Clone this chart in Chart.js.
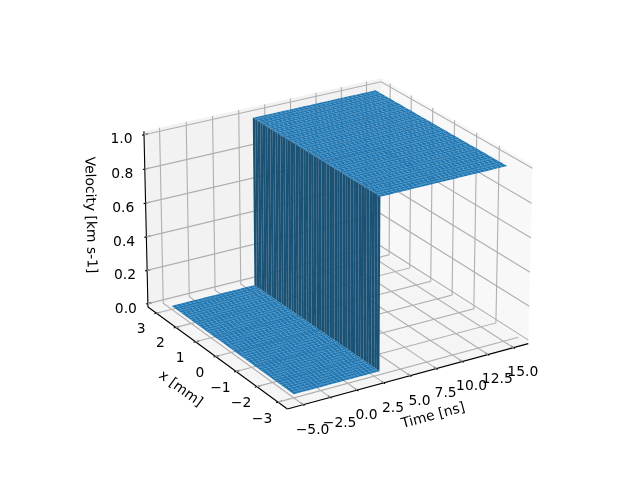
<!DOCTYPE html>
<html>
<head>
<meta charset="utf-8">
<title>Velocity surface</title>
<script src="https://cdn.jsdelivr.net/npm/chart.js@4"></script>
<style>
  html, body { margin: 0; padding: 0; background: #fff; }
  canvas { display: block; }
</style>
</head>
<body>
<canvas id="chart" width="640" height="480"></canvas>
<script>
// surface samples, rows are x [mm], columns are Time [ns]
const timeSamples = [-5, -4.59, -4.18, -3.78, -3.37, -2.96, -2.55, -2.14, -1.73, -1.33, -0.92, -0.51, -0.1,
  0.31, 0.71, 1.12, 1.53, 1.94, 2.35, 2.76, 3, 3, 3.16, 3.57, 3.98, 4.39, 4.8, 5.2, 5.61, 6.02, 6.43, 6.84, 7.24,
  7.65, 8.06, 8.47, 8.88, 9.29, 9.69, 10.1, 10.51, 10.92, 11.33, 11.73, 12.14, 12.55, 12.96, 13.37, 13.78,
  14.18, 14.59, 15];
const xSamples = [-3, -2.88, -2.76, -2.63, -2.51, -2.39, -2.27, -2.14, -2.02, -1.9, -1.78, -1.65, -1.53, -1.41,
  -1.29, -1.16, -1.04, -0.92, -0.8, -0.67, -0.55, -0.43, -0.31, -0.18, -0.06, 0.06, 0.18, 0.31, 0.43, 0.55,
  0.67, 0.8, 0.92, 1.04, 1.16, 1.29, 1.41, 1.53, 1.65, 1.78, 1.9, 2.02, 2.14, 2.27, 2.39, 2.51, 2.63, 2.76,
  2.88, 3];
const velocitySamples = [0, 0, 0, 0, 0, 0, 0, 0, 0, 0, 0, 0, 0,
  0, 0, 0, 0, 0, 0, 0, 0, 1, 1, 1, 1, 1, 1, 1, 1, 1, 1, 1, 1,
  1, 1, 1, 1, 1, 1, 1, 1, 1, 1, 1, 1, 1, 1, 1, 1,
  1, 1, 1];

const timeTicks = [-5, -2.5, 0, 2.5, 5, 7.5, 10, 12.5, 15];
const timeTickLabels = ['\u22125.0', '\u22122.5', '0.0', '2.5', '5.0', '7.5', '10.0', '12.5', '15.0'];
const xTicks = [-3, -2, -1, 0, 1, 2, 3];
const xTickLabels = ['\u22123', '\u22122', '\u22121', '0', '1', '2', '3'];
const velocityTicks = [0, 0.2, 0.4, 0.6, 0.8, 1];
const velocityTickLabels = ['0.0', '0.2', '0.4', '0.6', '0.8', '1.0'];

const timeLimits = [-6, 16];
const xLimits = [-3.3, 3.3];
const velocityLimits = [0, 1];

const ELEV = 23.5, AZIM = -121.7, DIST = 18;
const BOX = [1.35, 1.33, 0.93];

const dot = (a, b) => a[0]*b[0] + a[1]*b[1] + a[2]*b[2];
const cross = (a, b) => [a[1]*b[2]-a[2]*b[1], a[2]*b[0]-a[0]*b[2], a[0]*b[1]-a[1]*b[0]];
const unit = a => { const m = Math.sqrt(dot(a, a)); return a.map(v => v / m); };

const el = ELEV * Math.PI / 180, az = AZIM * Math.PI / 180;
const lookDir = [Math.cos(el)*Math.cos(az), Math.cos(el)*Math.sin(az), Math.sin(el)];
const centre = BOX.map(v => v / 2);
const eye = centre.map((v, i) => v + DIST * lookDir[i]);
const viewN = unit(lookDir);
const viewU = unit(cross([0, 0, 1], viewN));
const viewV = cross(viewN, viewU);

// same camera as mplot3d, gives plain 2d coordinates for the scatter scales
function project(t, x, v) {
  const p = [
    (t - timeLimits[0]) / (timeLimits[1] - timeLimits[0]) * BOX[0],
    (x - xLimits[0]) / (xLimits[1] - xLimits[0]) * BOX[1],
    (v - velocityLimits[0]) / (velocityLimits[1] - velocityLimits[0]) * BOX[2]
  ].map((c, i) => c - eye[i]);
  const w = -dot(viewN, p);
  return { x: dot(viewU, p) / w, y: dot(viewV, p) / w };
}

const spans = [timeLimits, xLimits, velocityLimits].map(l => (l[1] - l[0]) / 12);
const tLo = timeLimits[0] - spans[0] / 4, tHi = timeLimits[1] + spans[0] / 4;
const xLo = xLimits[0] - spans[1] / 4, xHi = xLimits[1] + spans[1] / 4;
const vLo = velocityLimits[0] - spans[2] / 4, vHi = velocityLimits[1] + spans[2] / 4;

const PANE_LEFT = 'rgba(230,230,230,0.5)';
const PANE_RIGHT = 'rgba(242,242,242,0.5)';
const PANE_FLOOR = 'rgba(236,236,236,0.5)';
const GRID = '#b0b0b0';
const TOP_COLOR = '#1f77b4';
const WALL_COLOR = '#1a5276';

function polyData(corners) { return corners.map(c => project(c[0], c[1], c[2])); }

const polygon = (corners, color) => ({
  data: polyData(corners), polyColor: color, pointRadius: 0, showLine: false
});
const stroke = (corners, color) => ({
  data: polyData(corners), borderColor: color, borderWidth: 0.8 * 100 / 72,
  pointRadius: 0, showLine: true, tension: 0, fill: false
});

const datasets = [];
datasets.push(polygon([[tLo,xHi,vLo],[tHi,xHi,vLo],[tHi,xHi,vHi],[tLo,xHi,vHi]], PANE_LEFT));
datasets.push(polygon([[tHi,xLo,vLo],[tHi,xHi,vLo],[tHi,xHi,vHi],[tHi,xLo,vHi]], PANE_RIGHT));
datasets.push(polygon([[tLo,xLo,vLo],[tHi,xLo,vLo],[tHi,xHi,vLo],[tLo,xHi,vLo]], PANE_FLOOR));

timeTicks.forEach(t => datasets.push(stroke([[t,xLo,vLo],[t,xHi,vLo],[t,xHi,vHi]], GRID)));
xTicks.forEach(x => datasets.push(stroke([[tLo,x,vLo],[tHi,x,vLo],[tHi,x,vHi]], GRID)));
velocityTicks.forEach(v => datasets.push(stroke([[tLo,xHi,v],[tHi,xHi,v],[tHi,xLo,v]], GRID)));

// axis lines and ticks
datasets.push(stroke([[tLo,xLo,vLo],[tHi,xLo,vLo]], '#000'));
datasets.push(stroke([[tLo,xLo,vLo],[tLo,xHi,vLo]], '#000'));
datasets.push(stroke([[tLo,xHi,vLo],[tLo,xHi,vHi]], '#000'));
timeTicks.forEach(t => datasets.push(stroke([[t,xLo-0.1*spans[1],vLo],[t,xLo+0.2*spans[1],vLo]], '#000')));
xTicks.forEach(x => datasets.push(stroke([[tLo-0.1*spans[0],x,vLo],[tLo+0.2*spans[0],x,vLo]], '#000')));
velocityTicks.forEach(v => datasets.push(stroke([[tLo-0.1*spans[0],xHi,v],[tLo+0.2*spans[0],xHi,v]], '#000')));

// surface, far cells first so the near ones sit on top
const facetPoints = [], facetColors = [];
for (let i = timeSamples.length - 2; i >= 0; i--) {
  for (let j = xSamples.length - 2; j >= 0; j--) {
    const v0 = velocitySamples[i], v1 = velocitySamples[i + 1];
    facetPoints.push(
      project(timeSamples[i], xSamples[j], v0),
      project(timeSamples[i + 1], xSamples[j], v1),
      project(timeSamples[i + 1], xSamples[j + 1], v1),
      project(timeSamples[i], xSamples[j + 1], v0)
    );
    facetColors.push(v0 === v1 ? TOP_COLOR : WALL_COLOR);
  }
}
datasets.push({ data: facetPoints, facetColors, pointRadius: 0, showLine: false });

// text anchors
const texts = [];
timeTicks.forEach((t, i) => texts.push({ at: project(t, xLo - 0.77*spans[1], vLo - 1.33*spans[2]), text: timeTickLabels[i], angle: 0 }));
xTicks.forEach((x, i) => texts.push({ at: project(tLo - 0.8*spans[0], x, vLo - 0.9*spans[2]), text: xTickLabels[i], angle: 0 }));
velocityTicks.forEach((v, i) => texts.push({ at: project(tLo - 1.14*spans[0], xHi, v), text: velocityTickLabels[i], angle: 0 }));
texts.push({ at: project(5, xLo - 1.9*spans[1], vLo - 1.7*spans[2]), text: 'Time [ns]', from: [[tLo,xLo,vLo],[tHi,xLo,vLo]] });
texts.push({ at: project(tLo - 1.8*spans[0], 0, vLo - 1.65*spans[2]), text: 'x [mm]', from: [[tLo,xLo,vLo],[tLo,xHi,vLo]] });
texts.push({ at: project(tLo - 1.86*spans[0], xHi + 1.86*spans[1], 0.5), text: 'Velocity [km s-1]', from: [[tLo,xHi,vLo],[tLo,xHi,vHi]] });
datasets.push({ data: texts.map(t => t.at), textItems: texts, pointRadius: 0, showLine: false });

const meshPlugin = {
  id: 'mesh',
  beforeDatasetsDraw(chart) {
    // panes go under everything else
    const ctx = chart.ctx;
    chart.data.datasets.forEach((ds, i) => {
      if (!ds.polyColor) return;
      const pts = chart.getDatasetMeta(i).data;
      ctx.beginPath();
      pts.forEach((p, k) => k ? ctx.lineTo(p.x, p.y) : ctx.moveTo(p.x, p.y));
      ctx.closePath();
      ctx.fillStyle = ds.polyColor;
      ctx.fill();
    });
  },
  afterDatasetsDraw(chart) {
    const ctx = chart.ctx;
    const sx = chart.scales.x, sy = chart.scales.y;
    chart.data.datasets.forEach((ds, i) => {
      const pts = chart.getDatasetMeta(i).data;
      if (ds.facetColors) {
        for (let f = 0; f < ds.facetColors.length; f++) {
          const a = pts[f*4], b = pts[f*4+1], c = pts[f*4+2], d = pts[f*4+3];
          ctx.beginPath();
          ctx.moveTo(a.x, a.y); ctx.lineTo(b.x, b.y); ctx.lineTo(c.x, c.y); ctx.lineTo(d.x, d.y);
          ctx.closePath();
          ctx.fillStyle = ds.facetColors[f];
          ctx.fill();
        }
      }
      if (ds.textItems) {
        ctx.save();
        ctx.font = '13.89px "DejaVu Sans"';
        ctx.fillStyle = '#000';
        ctx.textAlign = 'center';
        ctx.textBaseline = 'middle';
        ds.textItems.forEach((t, k) => {
          let angle = t.angle || 0;
          if (t.from) {
            const p0 = project(...t.from[0]), p1 = project(...t.from[1]);
            const dx = sx.getPixelForValue(p1.x) - sx.getPixelForValue(p0.x);
            const dy = sy.getPixelForValue(p1.y) - sy.getPixelForValue(p0.y);
            angle = Math.atan2(dy, dx);
            if (angle > Math.PI / 2) angle -= Math.PI;
            if (angle < -Math.PI / 2) angle += Math.PI;
          }
          ctx.save();
          ctx.translate(pts[k].x, pts[k].y);
          ctx.rotate(angle);
          ctx.fillText(t.text, 0, 0);
          ctx.restore();
        });
        ctx.restore();
      }
    });
  }
};

new Chart(document.getElementById('chart'), {
  type: 'scatter',
  data: { datasets },
  plugins: [meshPlugin],
  options: {
    responsive: false,
    animation: false,
    clip: false,
    events: [],
    layout: { padding: { left: 146.2, right: 124.2, top: 57.6, bottom: 52.8 } },
    plugins: { legend: { display: false }, tooltip: { enabled: false }, title: { display: false } },
    scales: {
      x: { type: 'linear', display: false, min: -0.0528, max: 0.05 },
      y: { type: 'linear', display: false, min: -0.0528, max: 0.05 }
    }
  }
});
</script>
</body>
</html>
